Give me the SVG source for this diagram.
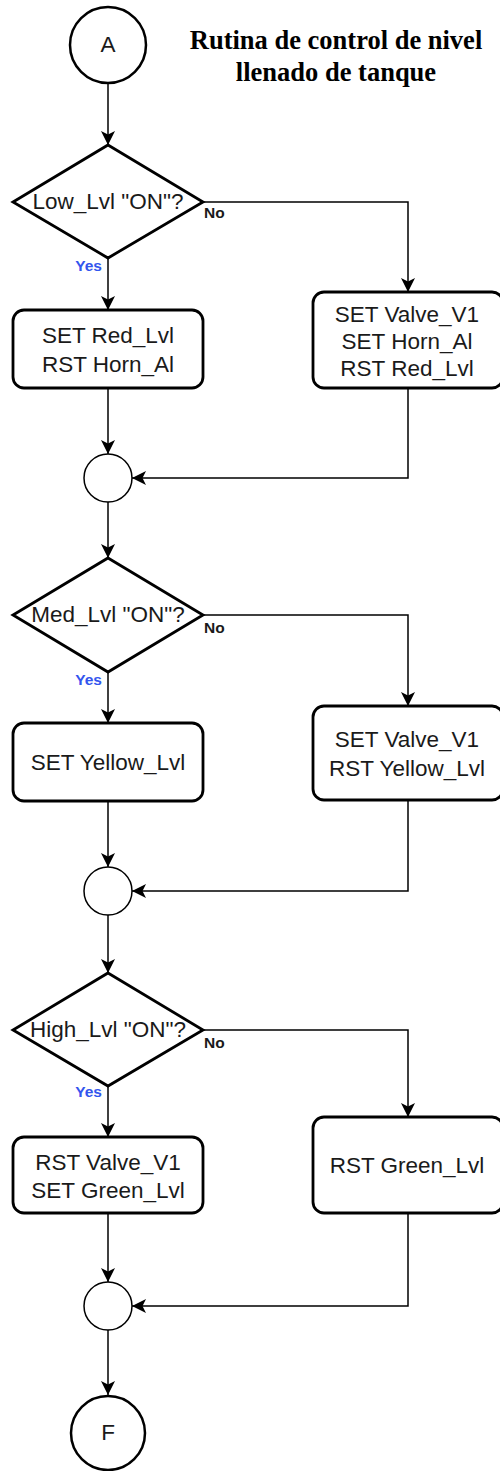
<svg xmlns="http://www.w3.org/2000/svg" width="500" height="1471" viewBox="0 0 500 1471">
  <style>
    .bg { fill: #ffffff; }
    .term { fill: #ffffff; stroke: #000; stroke-width: 2.5; }
    .junc { fill: #ffffff; stroke: #000; stroke-width: 1.5; }
    .dec { fill: #ffffff; stroke: #000; stroke-width: 2.8; stroke-linejoin: miter; }
    .proc { fill: #ffffff; stroke: #000; stroke-width: 2.8; }
    .edge { fill: none; stroke: #000; stroke-width: 1.5; marker-end: url(#arrow); }
    .lbl { font-family: "Liberation Sans", Arial, sans-serif; font-size: 22.5px; fill: #1a1a1a; text-anchor: middle; }
    .no { font-family: "Liberation Sans", Arial, sans-serif; font-size: 15.5px; font-weight: bold; fill: #1a1a1a; }
    .yes { font-family: "Liberation Sans", Arial, sans-serif; font-size: 15.5px; font-weight: bold; fill: #3355ee; text-anchor: end; }
    .title { font-family: "Liberation Serif", "Times New Roman", serif; font-size: 26.5px; font-weight: bold; fill: #000; text-anchor: middle; }
  </style>
  <defs>
    <marker id="arrow" markerUnits="userSpaceOnUse" markerWidth="16" markerHeight="16" viewBox="0 0 16 16" refX="14" refY="7" orient="auto">
      <path d="M14,7 L0,0 L3.5,7 L0,14 Z" fill="#000"/>
    </marker>
  </defs>

  <rect class="bg" x="0" y="0" width="500" height="1471"/>

  <g id="title">
    <text class="title" x="336" y="49">Rutina de control de nivel</text>
    <text class="title" x="336" y="81">llenado de tanque</text>
  </g>

  <!-- connectors -->
  <g id="connectors">
    <path class="edge" d="M108,83 L108,145"/>
    <path class="edge" d="M108,258 L108,310"/>
    <path class="edge" d="M203,202 L408,202 L408,292"/>
    <path class="edge" d="M108,388 L108,454"/>
    <path class="edge" d="M408,388 L408,478 L132,478"/>
    <path class="edge" d="M108,502 L108,558"/>
    <path class="edge" d="M108,672 L108,723"/>
    <path class="edge" d="M203,615 L408,615 L408,706"/>
    <path class="edge" d="M108,801 L108,867"/>
    <path class="edge" d="M408,800 L408,891 L132,891"/>
    <path class="edge" d="M108,915 L108,973"/>
    <path class="edge" d="M108,1086 L108,1137"/>
    <path class="edge" d="M203,1030 L408,1030 L408,1117"/>
    <path class="edge" d="M108,1213 L108,1282"/>
    <path class="edge" d="M408,1213 L408,1306 L132,1306"/>
    <path class="edge" d="M108,1330 L108,1395"/>
  </g>

  <!-- start terminal -->
  <g id="start">
    <circle class="term" cx="108" cy="45" r="38"/>
    <text class="lbl" x="108" y="52">A</text>
  </g>

  <!-- low level check -->
  <g id="dec-low">
    <polygon class="dec" points="108,145 203,202 108,258 13,202"/>
    <text class="lbl" x="108" y="209">Low_Lvl "ON"?</text>
    <text class="no" x="204" y="218">No</text>
    <text class="yes" x="102" y="271">Yes</text>
  </g>
  <g id="low-yes">
    <rect class="proc" x="13" y="310" width="190" height="78" rx="11"/>
    <text class="lbl" x="108" y="343">SET Red_Lvl</text>
    <text class="lbl" x="108" y="372">RST Horn_Al</text>
  </g>
  <g id="low-no">
    <rect class="proc" x="313" y="292" width="190" height="96" rx="11"/>
    <text class="lbl" x="407" y="322">SET Valve_V1</text>
    <text class="lbl" x="407" y="349">SET Horn_Al</text>
    <text class="lbl" x="407" y="376">RST Red_Lvl</text>
  </g>
  <g id="join-1">
    <circle class="junc" cx="108" cy="478" r="24"/>
  </g>

  <!-- medium level check -->
  <g id="dec-med">
    <polygon class="dec" points="108,558 203,615 108,672 13,615"/>
    <text class="lbl" x="108" y="622">Med_Lvl "ON"?</text>
    <text class="no" x="204" y="633">No</text>
    <text class="yes" x="102" y="685">Yes</text>
  </g>
  <g id="med-yes">
    <rect class="proc" x="13" y="723" width="190" height="78" rx="11"/>
    <text class="lbl" x="108" y="770">SET Yellow_Lvl</text>
  </g>
  <g id="med-no">
    <rect class="proc" x="313" y="706" width="190" height="94" rx="11"/>
    <text class="lbl" x="407" y="747">SET Valve_V1</text>
    <text class="lbl" x="407" y="776">RST Yellow_Lvl</text>
  </g>
  <g id="join-2">
    <circle class="junc" cx="108" cy="891" r="24"/>
  </g>

  <!-- high level check -->
  <g id="dec-high">
    <polygon class="dec" points="108,973 203,1030 108,1086 13,1030"/>
    <text class="lbl" x="108" y="1037">High_Lvl "ON"?</text>
    <text class="no" x="204" y="1048">No</text>
    <text class="yes" x="102" y="1097">Yes</text>
  </g>
  <g id="high-yes">
    <rect class="proc" x="13" y="1137" width="190" height="76" rx="11"/>
    <text class="lbl" x="108" y="1170">RST Valve_V1</text>
    <text class="lbl" x="108" y="1198">SET Green_Lvl</text>
  </g>
  <g id="high-no">
    <rect class="proc" x="313" y="1117" width="190" height="96" rx="11"/>
    <text class="lbl" x="407" y="1173">RST Green_Lvl</text>
  </g>
  <g id="join-3">
    <circle class="junc" cx="108" cy="1306" r="24"/>
  </g>

  <!-- end terminal -->
  <g id="end">
    <circle class="term" cx="108" cy="1433" r="37"/>
    <text class="lbl" x="108" y="1440">F</text>
  </g>
</svg>
